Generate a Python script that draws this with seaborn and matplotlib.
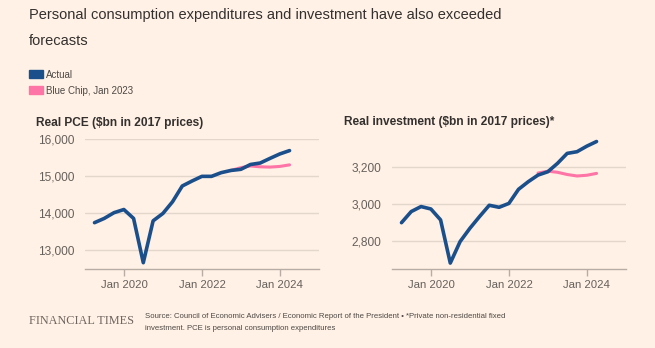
import matplotlib
matplotlib.use("Agg")
import matplotlib.pyplot as plt
import matplotlib.dates as mdates
import seaborn as sns
import pandas as pd

# ---- data (quarterly, plotted at quarter end) ----
quarters = pd.date_range("2019-03-31", periods=21, freq="QE")
pce_actual = [13750, 13865, 14020, 14105, 13865, 12670, 13800, 14000, 14315, 14740,
              14875, 15000, 15000, 15100, 15160, 15190, 15320, 15360, 15485, 15605, 15695]
inv_actual = [2900, 2960, 2987, 2974, 2915, 2682, 2798, 2870, 2933, 2994,
              2983, 3004, 3080, 3121, 3157, 3175, 3220, 3274, 3283, 3313, 3338]
fc_quarters = quarters[14:]
pce_bluechip = [15160, 15235, 15280, 15258, 15250, 15268, 15310]
inv_bluechip = [3168, 3178, 3172, 3160, 3152, 3156, 3166]

series_names = ["Actual", "Blue Chip, Jan 2023"]
colors = ["#1B4F8C", "#FF74A6"]
panel_titles = ["Real PCE ($bn in 2017 prices)", "Real investment ($bn in 2017 prices)*"]
pce_ticks = [13000, 14000, 15000, 16000]
inv_ticks = [2800, 3000, 3200]
x_ticks = ["2020-01-01", "2022-01-01", "2024-01-01"]

BG = "#FFF1E5"
sns.set_theme(style="white")
plt.rcParams["font.family"] = ["Liberation Sans", "DejaVu Sans"]

fig = plt.figure(figsize=(6.55, 3.48), dpi=100, facecolor=BG)

def make_df(dates, actual, fc):
    d1 = pd.DataFrame({"date": dates, "value": actual, "series": series_names[0]})
    d2 = pd.DataFrame({"date": fc_quarters, "value": fc, "series": series_names[1]})
    return pd.concat([d2, d1], ignore_index=True)

panels = [
    (make_df(quarters, pce_actual, pce_bluechip), pce_ticks, (12500, 16000), [85, 319]),
    (make_df(quarters, inv_actual, inv_bluechip), inv_ticks, (2650, 3350), [392, 626]),
]

W, H = 655, 348
for i, (df, yt, ylim, (xl, xr)) in enumerate(panels):
    ax = fig.add_axes([xl / W, 1 - 269 / H, (xr - xl) / W, (269 - 139.3) / H])
    ax.set_facecolor(BG)
    for name, col, lw, z in [(series_names[1], colors[1], 2.2, 2), (series_names[0], colors[0], 2.6, 3)]:
        sub = df[df.series == name]
        sns.lineplot(data=sub, x="date", y="value", ax=ax, color=col, lw=lw,
                     zorder=z, solid_joinstyle="round", solid_capstyle="round")
    ax.set_xlim(pd.Timestamp("2019-01-01"), pd.Timestamp("2025-01-01"))
    ax.set_ylim(*ylim)
    ax.set_yticks(yt)
    ax.set_yticklabels([f"{v:,}" for v in yt])
    ax.set_xticks([pd.Timestamp(t) for t in x_ticks])
    ax.xaxis.set_major_formatter(mdates.DateFormatter("%b %Y"))
    ax.grid(axis="y", color="#E3D6CB", lw=1.0)
    ax.grid(axis="x", visible=False)
    for s in ["top", "right", "left"]:
        ax.spines[s].set_visible(False)
    ax.spines["bottom"].set_color("#B8ADA4")
    ax.spines["bottom"].set_linewidth(1.0)
    ax.tick_params(axis="x", bottom=True, length=5, width=1, color="#B8ADA4",
                   labelsize=8.2, labelcolor="#66605C", pad=3)
    ax.tick_params(axis="y", left=False, length=0, labelsize=8.6, labelcolor="#66605C", pad=7.5)
    ax.set_xlabel("")
    ax.set_ylabel("")
    if ax.get_legend():
        ax.get_legend().remove()

fig.text(36 / W, 1 - 123 / H, panel_titles[0], fontsize=8.6, color="#33302E",
         fontweight="semibold", va="center", ha="left")
fig.text(344 / W, 1 - 122 / H, panel_titles[1], fontsize=8.6, color="#33302E",
         fontweight="semibold", va="center", ha="left")

# Title
fig.text(29 / W, 1 - 15 / H, "Personal consumption expenditures and investment have also exceeded",
         fontsize=10.5, color="#33302E", va="center", ha="left")
fig.text(29 / W, 1 - 41 / H, "forecasts", fontsize=10.5, color="#33302E", va="center", ha="left")

# Legend
for j, (name, col) in enumerate(zip(series_names, colors)):
    yc = 74 + j * 16
    fig.patches.append(plt.Rectangle((29 / W, 1 - (yc + 4) / H), 14 / W, 8 / H,
                                     transform=fig.transFigure, color=col, figure=fig))
    fig.text(46 / W, 1 - (yc + 1) / H, name, fontsize=7.0, color="#4D4845", va="center", ha="left")

# Footer
fig.text(29 / W, 1 - 321 / H, "FINANCIAL TIMES", fontsize=8.8, color="#6E6660",
         family=["Liberation Serif", "DejaVu Serif"], va="center", ha="left")
fig.text(145 / W, 1 - 316 / H,
         "Source: Council of Economic Advisers / Economic Report of the President \u2022 *Private non-residential fixed",
         fontsize=5.6, color="#4D4845", va="center", ha="left")
fig.text(145 / W, 1 - 328 / H, "investment. PCE is personal consumption expenditures",
         fontsize=5.6, color="#4D4845", va="center", ha="left")

fig.savefig("out.png", dpi=100, facecolor=BG)
